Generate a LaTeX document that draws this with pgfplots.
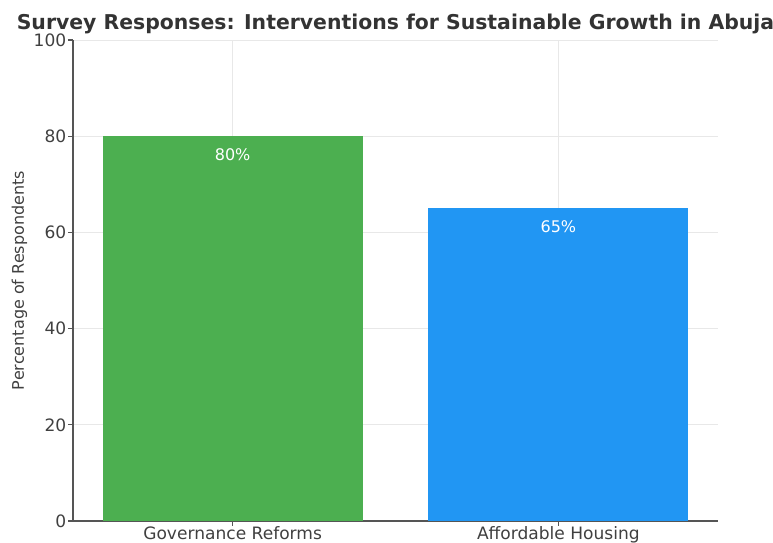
\documentclass[border=0pt]{standalone}
\usepackage{pgfplots}
\pgfplotsset{compat=1.18}
\usepackage{fontspec}
\setmainfont{DejaVu Sans}
\definecolor{bargreen}{HTML}{4CAF50}
\definecolor{barblue}{HTML}{2196F3}
\definecolor{axgray}{HTML}{555555}
\begin{document}
\begin{tikzpicture}[x=0.75pt,y=0.75pt]
\begin{axis}[
  name=ax,
  scale only axis,
  width=483.75pt, height=360.75pt,
  ymin=0, ymax=100,
  xmin=-0.49, xmax=1.49,
  ytick={0,20,40,60,80,100},
  xtick={0,1},
  xticklabels={Governance Reforms, Affordable Housing},
  axis lines*=left,
  axis line style={axgray, line width=0.8pt},
  tick style={axgray, line width=0.8pt},
  major tick length=3.5pt,
  tick align=outside,
  xtick pos=bottom, ytick pos=left,
  grid=major,
  grid style={gray!18, line width=0.6pt},
  ticklabel style={font=\fontsize{12.8pt}{14pt}\selectfont, text=black!75},
  xticklabel style={yshift=3pt},
  yticklabel style={xshift=2pt},
  /pgf/number format/assume math mode=true,
  ylabel={Percentage of Respondents},
  ylabel style={font=\fontsize{12pt}{14pt}\selectfont, text=black!75, yshift=-2pt},
  title={\textbf{Survey Responses: Interventions for Sustainable Growth in Abuja}},
  title style={font=\fontsize{15.3pt}{17pt}\selectfont, text=black!80, at={(0.5,1)}, anchor=base, yshift=1.5pt},
  ybar, bar width=195pt,
  nodes near coords={\pgfmathprintnumber{\pgfplotspointmeta}\%},
  nodes near coords style={anchor=north, yshift=-6pt, text=white, font=\fontsize{12pt}{14pt}\selectfont},
]
\addplot[fill=bargreen, draw=none, bar shift=0pt] coordinates {(0,80)};
\addplot[fill=barblue, draw=none, bar shift=0pt] coordinates {(1,65)};
\end{axis}
\pgfresetboundingbox
\path ([xshift=-54.75pt,yshift=-15.75pt]ax.south west) rectangle ([xshift=41.25pt,yshift=30pt]ax.north east);
\end{tikzpicture}
\end{document}
